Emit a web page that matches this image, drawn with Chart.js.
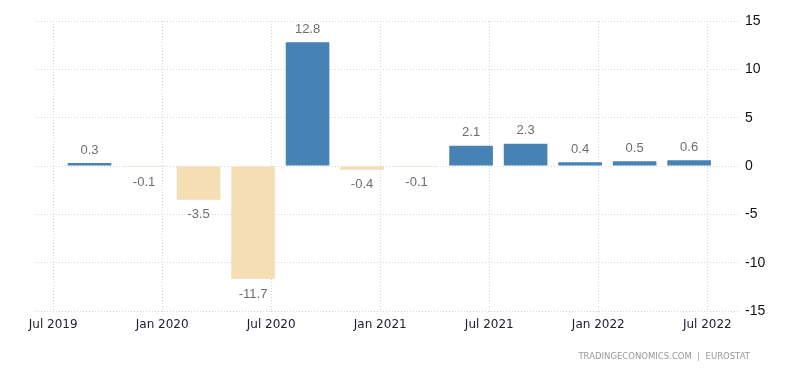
<!DOCTYPE html>
<html>
<head>
<meta charset="utf-8">
<script src="https://cdn.jsdelivr.net/npm/chart.js@4"></script>
<style>
  html, body { margin: 0; padding: 0; background: #fff; }
  #wrap { position: relative; width: 800px; height: 373px; }
  #source {
    position: absolute; right: 50px; top: 351px;
    font: 8.5px "DejaVu Sans", sans-serif; color: #999; letter-spacing: 0;
  }
</style>
</head>
<body>
<div id="wrap">
  <canvas id="chart" width="800" height="373"></canvas>
  <div id="source">TRADINGECONOMICS.COM &nbsp;|&nbsp; EUROSTAT</div>
</div>
<script>

/* DATA */

const quarters = ["2019-09","2019-12","2020-03","2020-06","2020-09","2020-12",
                  "2021-03","2021-06","2021-09","2021-12","2022-03","2022-06"];

const growth = [0.3,-0.1,-3.5,-11.7,12.8,-0.4,-0.1,2.1,2.3,0.4,0.5,0.6];

const tickDates = ["2019-07","2020-01","2020-07","2021-01","2021-07","2022-01","2022-07"];

const tickLabels = ["Jul 2019","Jan 2020","Jul 2020","Jan 2021","Jul 2021","Jan 2022","Jul 2022"];

const yTicks = [-15,-10,-5,0,5,10,15];

/* months counted from Jul 2019 */

function monthIndex(s){

    const [y,m] = s.split("-").map(Number);

    return (y-2019)*12 + (m-7);

}

const points = quarters.map((q,i)=>({x:monthIndex(q), y:growth[i]}));

const tickPos = tickDates.map(monthIndex);

const gridColor = "#d4d4d4";

/* value labels over / under bars */

const valueLabels = {

    id:"valueLabels",

    afterDatasetsDraw(chart){

        const ctx = chart.ctx;

        const meta = chart.getDatasetMeta(0);

        ctx.save();

        ctx.font = "13px 'Liberation Sans', Arial, sans-serif";

        ctx.fillStyle = "#6e6e6e";

        ctx.textAlign = "center";

        ctx.textBaseline = "middle";

        meta.data.forEach((bar,i)=>{

            const v = growth[i];

            const y = v >= 0 ? bar.y - 13 : bar.y + 15;

            ctx.fillText(v.toFixed(1), bar.x, y);

        });

        ctx.restore();

    }

};

new Chart(document.getElementById("chart"),{

    type:"bar",

    data:{

        datasets:[{

            data:points,

            backgroundColor:growth.map(v => v >= 0 ? "#4682b4" : "#f5deb3"),

            borderWidth:0,

            barPercentage:1,

            categoryPercentage:0.8

        }]

    },

    options:{

        responsive:false,

        animation:false,

        layout:{ padding:{ top:21, left:35, right:0, bottom:0 } },

        plugins:{ legend:{display:false}, tooltip:{enabled:false} },

        scales:{

            x:{

                type:"linear",

                offset:false,

                min:-1,

                max:37.8,

                afterBuildTicks(scale){ scale.ticks = tickPos.map(v=>({value:v})); },

                afterFit(scale){ scale.height = 62; },

                ticks:{

                    autoSkip:false,

                    maxRotation:0,

                    padding:4,

                    color:"#22202e",

                    font:{ family:"'DejaVu Sans', sans-serif", size:12 },

                    callback:(v)=> tickLabels[tickPos.indexOf(v)] || ""

                },

                grid:{ offset:false, color:gridColor, tickLength:3, tickBorderDash:[1,2], tickColor:gridColor },

                border:{ display:false, dash:[1,2] }

            },

            y:{

                position:"right",

                min:-15,

                max:15,

                afterBuildTicks(scale){ scale.ticks = yTicks.map(v=>({value:v})); },

                afterFit(scale){ scale.width = 60; },

                ticks:{

                    padding:5,

                    color:"#111",

                    font:{ family:"'Liberation Sans', Arial, sans-serif", size:14 }

                },

                grid:{ color:gridColor, drawTicks:false },

                border:{ display:false, dash:[1,2] }

            }

        }

    },

    plugins:[valueLabels]

});

</script>
</body>
</html>
